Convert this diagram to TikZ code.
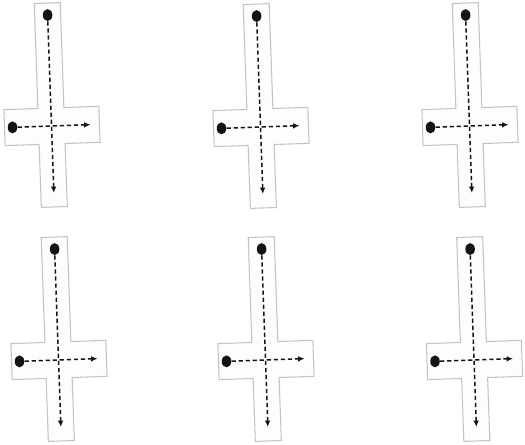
\documentclass[tikz,border=0pt]{standalone}
\usetikzlibrary{arrows.meta,shapes.geometric}
\definecolor{rim}{RGB}{195,195,195}
\definecolor{paper}{RGB}{253,253,253}
\definecolor{ink}{RGB}{20,20,20}
\tikzset{
  >={Latex[length=3.6pt,width=3.2pt]},
  dot/.style={ellipse,fill=ink,inner sep=0pt,minimum width=0.19cm,minimum height=0.24cm},
  route/.style={->,draw=ink,line width=0.85pt,dash pattern=on 2.4pt off 1.6pt},
  % cross-shaped corridor with two walking routes
  pics/crossing/.style={code={
    \draw[rim,fill=paper,line width=0.6pt] (-13,123) -- (13,123) -- (13,18) -- (48,18) -- (48,-18)
      -- (13,-18) -- (13,-81) -- (-13,-81) -- (-13,-18) -- (-47,-18) -- (-47,18) -- (-13,18) -- cycle;
    \node[dot] (-top) at (0,111) {};
    \node[dot] (-left) at (-39,0) {};
    \coordinate (-bottom) at (0,-67);
    \coordinate (-right) at (39,0);
    \draw[route] (-top) -- (-bottom);
    \draw[route] (-left) -- (-right);
  }},
}
\begin{document}
\begin{tikzpicture}[x=0.02cm,y=0.02cm]
  \useasboundingbox (0,0) rectangle (525,444);
  \pic[rotate=2] (c1) at (51.5,318) {crossing};
  \pic[rotate=2] (c2) at (260.5,317) {crossing};
  \pic[rotate=2] (c3) at (469.5,318) {crossing};
  \pic[rotate=2] (c4) at (58.5,84) {crossing};
  \pic[rotate=2] (c5) at (265.5,84) {crossing};
  \pic[rotate=2] (c6) at (474,84) {crossing};
\end{tikzpicture}
\end{document}
